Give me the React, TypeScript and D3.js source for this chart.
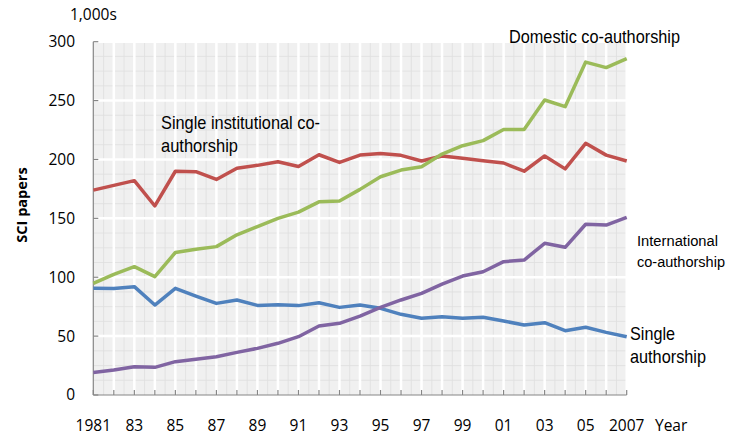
import React, { useEffect, useRef } from "react";
import * as d3 from "d3";

const years = d3.range(1981, 2008);
const singleInstitutional = [174, 178, 182, 160.5, 190, 189.6, 183, 192.5, 195, 198, 194, 204, 197.5, 203.7, 205, 203.5, 198.7, 203, 201, 199, 197, 190, 203, 192, 213.7, 203.7, 198.7];
const domestic = [94.8, 102.5, 109, 100.5, 121, 123.7, 126, 136, 143, 150, 155.3, 164, 164.7, 174.6, 185.3, 191, 193.8, 204.6, 211.7, 216, 225.5, 225.5, 250.5, 244.8, 282.7, 278, 285.6];
const singleAuthor = [90.6, 90.5, 92, 76.4, 90.6, 84, 77.8, 80.7, 76.1, 76.7, 75.9, 78.4, 74.4, 76.4, 73.6, 68.5, 65.1, 66.5, 65.1, 66, 62.8, 59.4, 61.4, 54.6, 57.5, 53.2, 49.5];
const international = [19.2, 21.2, 24, 23.5, 28.3, 30.3, 32.5, 36.2, 39.6, 43.9, 49.5, 58.6, 60.9, 67, 74.4, 80.7, 86.3, 94.2, 101, 104.7, 113.2, 114.6, 128.8, 125.4, 145, 144.3, 150.9];

const yTicks = [0, 50, 100, 150, 200, 250, 300];
const xTickYears = [1981, 1983, 1985, 1987, 1989, 1991, 1993, 1995, 1997, 1999, 2001, 2003, 2005, 2007];
const xTickLabels = ["1981", "83", "85", "87", "89", "91", "93", "95", "97", "99", "01", "03", "05", "2007"];

const series = [
  { name: "single", values: singleAuthor, color: "#4f81bd" },
  { name: "international", values: international, color: "#8064a2" },
  { name: "institutional", values: singleInstitutional, color: "#c0504d" },
  { name: "domestic", values: domestic, color: "#9bbb59" }
];

// annotation lines (text, width in px as in the picture)
const labels = [
  { lines: ["Domestic co-authorship"], widths: [171], x: 509, y: 43, size: 19 },
  { lines: ["Single institutional co-", "authorship"], widths: [159, 77], x: 161, y: 129, size: 19 },
  { lines: ["International", "co-authorship"], widths: [81, 88], x: 637, y: 246, size: 14, lh: 20.7 },
  { lines: ["Single", "authorship"], widths: [45, 76], x: 630, y: 340, size: 19 }
];

export default function App() {
  const ref = useRef<SVGSVGElement | null>(null);

  useEffect(() => {
    const width = 729;
    const height = 434;
    const svg = d3.select(ref.current);
    svg.selectAll("*").remove();

    const x = d3.scaleLinear().domain([1981, 2007]).range([93.3, 626.7]);
    const y = d3.scaleLinear().domain([0, 300]).range([395, 41.7]);
    const font = "'Open Sans', sans-serif";
    const narrow = "'Liberation Sans', Arial, sans-serif";

    // plot background
    svg.append("rect")
      .attr("x", x(1981)).attr("y", y(300))
      .attr("width", x(2007) - x(1981)).attr("height", y(0) - y(300))
      .attr("fill", "#f0f0f0");

    const grid = svg.append("g");
    // minor grid
    d3.range(1981.5, 2007, 1).forEach(v => {
      grid.append("line")
        .attr("x1", x(v)).attr("x2", x(v)).attr("y1", y(300)).attr("y2", y(0))
        .attr("stroke", "#dedede").attr("stroke-width", 0.8);
    });
    d3.range(12.5, 300, 12.5).forEach(v => {
      grid.append("line")
        .attr("x1", x(1981)).attr("x2", x(2007)).attr("y1", y(v)).attr("y2", y(v))
        .attr("stroke", "#dedede").attr("stroke-width", 0.8);
    });
    // major grid
    years.slice(1).forEach(v => {
      grid.append("line")
        .attr("x1", x(v)).attr("x2", x(v)).attr("y1", y(300)).attr("y2", y(0))
        .attr("stroke", "#fff").attr("stroke-width", 2.5);
    });
    yTicks.slice(1).forEach(v => {
      grid.append("line")
        .attr("x1", x(1981)).attr("x2", x(2007)).attr("y1", y(v)).attr("y2", y(v))
        .attr("stroke", "#fff").attr("stroke-width", 2.5);
    });

    // axes
    const axisColor = "#868686";
    svg.append("line")
      .attr("x1", x(1981)).attr("x2", x(1981)).attr("y1", y(300)).attr("y2", y(0))
      .attr("stroke", axisColor).attr("stroke-width", 1.2);
    svg.append("line")
      .attr("x1", x(1981)).attr("x2", x(2007)).attr("y1", y(0)).attr("y2", y(0))
      .attr("stroke", axisColor).attr("stroke-width", 1.2);
    yTicks.forEach(v => {
      svg.append("line")
        .attr("x1", x(1981)).attr("x2", x(1981) + 5).attr("y1", y(v)).attr("y2", y(v))
        .attr("stroke", axisColor).attr("stroke-width", 1.2);
      svg.append("text")
        .attr("x", 75).attr("y", y(v)).attr("dy", "0.35em")
        .attr("text-anchor", "end")
        .attr("font-family", font).attr("font-size", 15.5).attr("fill", "#000")
        .text(v);
    });
    years.forEach(v => {
      svg.append("line")
        .attr("x1", x(v)).attr("x2", x(v)).attr("y1", y(0)).attr("y2", y(0) - 5)
        .attr("stroke", axisColor).attr("stroke-width", 1.2);
    });
    xTickYears.forEach((v, i) => {
      svg.append("text")
        .attr("x", x(v)).attr("y", 430.5)
        .attr("text-anchor", "middle")
        .attr("font-family", font).attr("font-size", 15.5).attr("fill", "#000")
        .text(xTickLabels[i]);
    });
    svg.append("text")
      .attr("x", 655).attr("y", 430.5)
      .attr("font-family", font).attr("font-size", 15.5).attr("fill", "#000")
      .text("Year");
    svg.append("text")
      .attr("x", 70).attr("y", 20)
      .attr("font-family", font).attr("font-size", 15.5).attr("fill", "#000")
      .text("1,000s");
    svg.append("text")
      .attr("transform", "translate(27,205) rotate(-90)")
      .attr("text-anchor", "middle")
      .attr("font-family", font).attr("font-size", 14.5).attr("font-weight", "bold")
      .attr("fill", "#000")
      .text("SCI papers");

    // lines
    const line = d3.line<number>()
      .x((_, i) => x(years[i]))
      .y(d => y(d));
    series.forEach(s => {
      svg.append("path")
        .attr("d", line(s.values))
        .attr("fill", "none")
        .attr("stroke", s.color)
        .attr("stroke-width", 3.5)
        .attr("stroke-linejoin", "round");
    });

    // annotations
    labels.forEach(l => {
      l.lines.forEach((s, i) => {
        svg.append("text")
          .attr("x", l.x)
          .attr("y", l.y + i * (l.lh || 22.5))
          .attr("font-family", narrow).attr("font-size", l.size).attr("fill", "#000")
          .attr("textLength", l.widths[i])
          .attr("lengthAdjust", "spacingAndGlyphs")
          .text(s);
      });
    });

    svg.attr("width", width).attr("height", height);
  }, []);

  return (
    <svg
      ref={ref}
      width={729}
      height={434}
      style={{ position: "absolute", left: 0, top: 0, background: "#fff" }}
    />
  );
}
